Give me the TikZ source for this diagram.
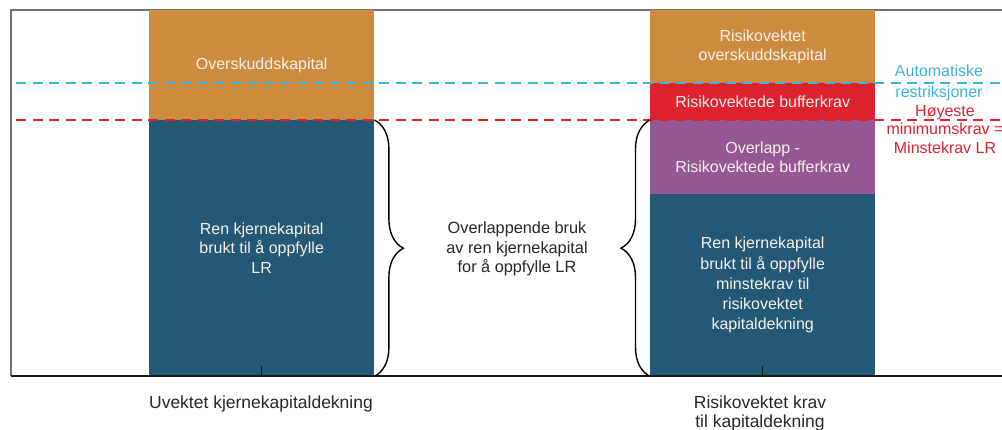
\documentclass[tikz,border=0pt]{standalone}
\usepackage{fontspec}
\setmainfont{Liberation Sans}
\usetikzlibrary{decorations.pathreplacing}
\definecolor{cOrange}{RGB}{205,139,64}
\definecolor{cRed}{RGB}{222,34,48}
\definecolor{cPurple}{RGB}{150,88,148}
\definecolor{cBlue}{RGB}{35,89,118}
\definecolor{cSky}{RGB}{60,180,224}
\definecolor{cLine}{RGB}{225,34,46}
\definecolor{cBarText}{RGB}{246,240,234}
\definecolor{cText}{RGB}{40,40,40}
\begin{document}
\begin{tikzpicture}[x=1pt,y=1pt,
  bar/.style={draw=none, inner sep=0pt, anchor=north west, align=center,
    text=cBarText, font=\fontsize{16}{19.5}\selectfont},
  lbl/.style={inner sep=0pt, align=center, text=cText, font=\fontsize{16.3}{19.5}\selectfont},
  axislbl/.style={inner sep=0pt, align=center, text=cText, font=\fontsize{17.5}{19}\selectfont},
  limitline/.style={line width=2.4pt, dash pattern=on 10pt off 6.5pt},
  bracestyle/.style={draw=black, line width=1.4pt, decorate,
    decoration={brace, amplitude=29pt}}]
\useasboundingbox (0,0) rectangle (1002,430);
\fill[white] (0,0) rectangle (1002,430);
% frame
\coordinate (ftl) at (11,420);
\coordinate (ftr) at (1002,420);
\coordinate (fbl) at (11,54);
\coordinate (fbr) at (1002,54);
\draw[gray!90!black, line width=1.5pt] (fbl) -- (ftl) -- (ftr);
% left bar
\node[bar, fill=cOrange, minimum width=225pt, minimum height=110pt] (lo) at (149,420) {Overskuddskapital};
\node[bar, fill=cBlue, minimum width=225pt, minimum height=256pt] (lb) at (149,310) {Ren kjernekapital\\brukt til å oppfylle\\LR};
% right bar
\node[bar, fill=cOrange, minimum width=225pt, minimum height=73pt] (ro) at (650,420) {Risikovektet\\overskuddskapital};
\node[bar, fill=cRed, minimum width=225pt, minimum height=37pt] (rr) at (650,347) {Risikovektede bufferkrav};
\node[bar, fill=cPurple, minimum width=225pt, minimum height=74pt] (rp) at (650,310) {Overlapp -\\Risikovektede bufferkrav};
\node[bar, fill=cBlue, minimum width=225pt, minimum height=182pt, font=\fontsize{16}{20.2}\selectfont] (rb) at (650,236) {Ren kjernekapital\\brukt til å oppfylle\\minstekrav til\\risikovektet\\kapitaldekning};
% ticks
\draw[black!70!cBlue, line width=0.6pt] (lb.south) -- ++(0,10);
\draw[black!70!cBlue, line width=0.6pt] (rb.south) -- ++(0,10);
% bottom axis
\draw[black!90, line width=2pt] (fbl) -- (fbr);
% limit lines
\coordinate (bl1) at (16,347);
\coordinate (bl2) at (1002,347);
\coordinate (rl1) at (16,310);
\coordinate (rl2) at (1002,310);
\draw[limitline, cSky] (bl1) -- (bl2);
\draw[limitline, cLine] (rl1) -- (rl2);
% braces
\draw[bracestyle] (lb.north east) -- (lb.south east);
\draw[bracestyle] (rb.south west) -- (rp.north west);
% labels
\node[lbl] (mid) at (517,181) {Overlappende bruk\\av ren kjernekapital\\for å oppfylle LR};
\node[lbl, text=cSky, font=\fontsize{16}{21}\selectfont] (auto) at (939,347.5) {Automatiske\\restriksjoner};
\node[lbl, text=cLine, font=\fontsize{16}{18.5}\selectfont] (hoy) at (945,300.5) {Høyeste\\minimumskrav =\\Minstekrav LR};
\node[axislbl] (xl) at (261,26) {Uvektet kjernekapitaldekning};
\node[axislbl] (xr) at (760,16.5) {Risikovektet krav\\til kapitaldekning};
\end{tikzpicture}
\end{document}
